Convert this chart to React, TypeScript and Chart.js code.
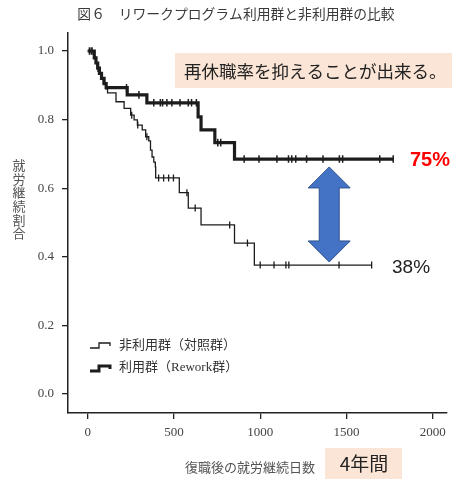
import React, { useEffect, useRef } from 'react';
import { Chart, registerables } from 'chart.js';

Chart.register(...registerables);

// ---- data ----
const xTicks = [0, 500, 1000, 1500, 2000];
const yTicks = [0, 0.2, 0.4, 0.6, 0.8, 1.0];

const titleText = '図６　リワークプログラム利用群と非利用群の比較';
const yTitle = '就労継続割合';
const xTitle = '復職後の就労継続日数';
const legendLabels = ['非利用群（対照群）', '利用群（Rework群）'];
const noteText = '再休職率を抑えることが出来る。';
const periodText = '4年間';
const reworkRateText = '75%';
const controlRateText = '38%';

// Rework group (thick line): event times (days) and survival after each step
const reworkTimes = [0, 38, 48, 58, 68, 80, 95, 107, 229, 343, 640, 657, 737, 851, 1771];
const reworkSurv = [1.0, 0.98, 0.965, 0.95, 0.935, 0.92, 0.905, 0.893, 0.872, 0.849, 0.808, 0.77, 0.733, 0.685, 0.685];
const reworkCensor = [10, 25, 60, 225, 297, 383, 421, 434, 459, 488, 535, 583, 602, 630, 754, 771, 907, 993, 1097, 1164, 1183, 1206, 1269, 1364, 1459, 1478, 1693, 1771];

// Control group (thin line)
const controlTimes = [0, 35, 45, 55, 65, 75, 90, 105, 115, 164, 211, 249, 269, 288, 316, 336, 354, 364, 373, 383, 392, 394, 531, 583, 657, 851, 966, 1646];
const controlSurv = [1.0, 0.98, 0.965, 0.95, 0.935, 0.92, 0.905, 0.89, 0.878, 0.852, 0.833, 0.813, 0.799, 0.784, 0.77, 0.75, 0.738, 0.711, 0.691, 0.676, 0.662, 0.63, 0.587, 0.542, 0.493, 0.44, 0.376, 0.376];
const controlCensor = [20, 255, 290, 343, 411, 440, 469, 497, 575, 623, 823, 926, 1000, 1080, 1149, 1166, 1457, 1646];

// arrow annotation (day, survival from, survival to)
const arrowDay = 1400;
const arrowTop = 0.662;
const arrowBottom = 0.385;

function survAt(times: number[], surv: number[], t: number) {
  let v = surv[0];
  for (let i = 0; i < times.length; i++) if (times[i] <= t) v = surv[i];
  return v;
}

const LINE = '#1c1c1c';
const PEACH = '#FBE5D6';
const CJK = '"Noto Sans CJK JP"';

const decor = {
  id: 'decor',
  beforeDatasetsDraw(chart: any) {
    const ctx = chart.ctx;
    ctx.save();
    ctx.fillStyle = PEACH;
    ctx.fillRect(175, 53, 277, 35);
    ctx.fillStyle = '#222';
    ctx.font = `17.5px ${CJK}`;
    ctx.textAlign = 'left';
    ctx.textBaseline = 'middle';
    ctx.fillText(noteText, 184, 71);
    ctx.restore();
  },
  afterDraw(chart: any) {
    const ctx = chart.ctx;
    const xs = chart.scales.x;
    const ys = chart.scales.y;
    ctx.save();
    // title
    ctx.fillStyle = '#3a3a3a';
    ctx.font = `13.8px ${CJK}`;
    ctx.textAlign = 'center';
    ctx.textBaseline = 'middle';
    ctx.fillText(titleText, 236, 14);
    // y title vertical
    ctx.fillStyle = '#555';
    ctx.font = `13px ${CJK}`;
    Array.from(yTitle).forEach((ch, i) => ctx.fillText(ch, 19, 165 + i * 13.7));
    // x title
    ctx.fillText(xTitle, 250, 467);
    // period box
    ctx.fillStyle = PEACH;
    ctx.fillRect(325, 448, 77, 31);
    ctx.fillStyle = '#222';
    ctx.font = `19px ${CJK}`;
    ctx.fillText(periodText, 364, 464);
    // percentages
    ctx.textAlign = 'left';
    ctx.textBaseline = 'alphabetic';
    ctx.fillStyle = '#FF0000';
    ctx.font = 'bold 20px "Liberation Sans"';
    ctx.fillText(reworkRateText, 410, 166);
    ctx.fillStyle = '#222';
    ctx.font = '19px "Liberation Sans"';
    ctx.fillText(controlRateText, 392, 273);
    // double arrow
    const cx = xs.getPixelForValue(arrowDay);
    const yt = ys.getPixelForValue(arrowTop);
    const yb = ys.getPixelForValue(arrowBottom);
    const hw = 21, sw = 10, hl = 21;
    ctx.beginPath();
    ctx.moveTo(cx, yt);
    ctx.lineTo(cx + hw, yt + hl);
    ctx.lineTo(cx + sw, yt + hl);
    ctx.lineTo(cx + sw, yb - hl);
    ctx.lineTo(cx + hw, yb - hl);
    ctx.lineTo(cx, yb);
    ctx.lineTo(cx - hw, yb - hl);
    ctx.lineTo(cx - sw, yb - hl);
    ctx.lineTo(cx - sw, yt + hl);
    ctx.lineTo(cx - hw, yt + hl);
    ctx.closePath();
    ctx.fillStyle = '#4472C4';
    ctx.fill();
    ctx.strokeStyle = '#2F528F';
    ctx.lineWidth = 1;
    ctx.stroke();
    // legend
    const drawIcon = (y: number, w: number) => {
      ctx.beginPath();
      ctx.moveTo(90, y + 3);
      ctx.lineTo(99, y + 3);
      ctx.lineTo(99, y - 2);
      ctx.lineTo(110, y - 2);
      ctx.lineTo(110, y + 1);
      ctx.strokeStyle = LINE;
      ctx.lineWidth = w;
      ctx.lineJoin = 'miter';
      ctx.stroke();
    };
    drawIcon(345, 1.3);
    drawIcon(368, 3);
    ctx.fillStyle = '#333';
    ctx.font = `13px "Liberation Serif", ${CJK}`;
    ctx.textBaseline = 'middle';
    ctx.fillText(legendLabels[0], 119, 346);
    ctx.fillText(legendLabels[1], 119, 368);
    ctx.restore();
  },
};

export default function App() {
  const ref = useRef<HTMLCanvasElement | null>(null);
  useEffect(() => {
    const canvas = ref.current;
    if (!canvas) return;
    const axisFont = { family: '"Liberation Serif"', size: 13 };
    const chart = new Chart(canvas, {
      type: 'line',
      data: {
        datasets: [
          {
            data: controlTimes.map((t, i) => ({ x: t, y: controlSurv[i] })),
            borderColor: LINE,
            borderWidth: 1.3,
            stepped: true,
            pointRadius: 0,
            fill: false,
          },
          {
            data: reworkTimes.map((t, i) => ({ x: t, y: reworkSurv[i] })),
            borderColor: LINE,
            borderWidth: 3.2,
            stepped: true,
            pointRadius: 0,
            fill: false,
          },
          {
            data: controlCensor.map((t) => ({ x: t, y: survAt(controlTimes, controlSurv, t) })),
            showLine: false,
            pointStyle: 'line',
            pointRotation: 90,
            pointRadius: 3.5,
            pointBorderColor: LINE,
            pointBorderWidth: 1.3,
          },
          {
            data: reworkCensor.map((t) => ({ x: t, y: survAt(reworkTimes, reworkSurv, t) })),
            showLine: false,
            pointStyle: 'line',
            pointRotation: 90,
            pointRadius: 3.8,
            pointBorderColor: LINE,
            pointBorderWidth: 1.5,
          },
        ],
      } as any,
      options: {
        responsive: false,
        animation: false,
        devicePixelRatio: 1,
        layout: { padding: { top: 33, left: 0, right: 0, bottom: 0 } },
        plugins: { legend: { display: false }, tooltip: { enabled: false } },
        scales: {
          x: {
            type: 'linear',
            min: -114.3,
            max: 2080,
            afterBuildTicks: (s: any) => {
              s.ticks = xTicks.map((v) => ({ value: v }));
            },
            afterFit: (s: any) => {
              s.height = 66;
            },
            grid: { drawOnChartArea: false, drawTicks: true, tickLength: 6, color: '#222', lineWidth: 1.3 },
            border: { display: true, color: '#222', width: 1.5 },
            ticks: { font: axisFont, color: '#444', padding: 6, maxRotation: 0, autoSkip: false, callback: (v: any) => String(v) },
          },
          y: {
            type: 'linear',
            min: -0.0554,
            max: 1.0525,
            afterBuildTicks: (s: any) => {
              s.ticks = yTicks.map((v) => ({ value: v }));
            },
            afterFit: (s: any) => {
              s.width = 68;
            },
            grid: { drawOnChartArea: false, drawTicks: true, tickLength: 6, color: '#222', lineWidth: 1.3 },
            border: { display: true, color: '#222', width: 1.5 },
            ticks: { font: axisFont, color: '#444', padding: 8, autoSkip: false, callback: (v: any) => Number(v).toFixed(1) },
          },
        },
      } as any,
      plugins: [decor],
    });
    return () => chart.destroy();
  }, []);
  return (
    <div style={{ position: 'absolute', left: 0, top: 0, width: 452, height: 479, background: '#fff' }}>
      <canvas ref={ref} width={452} height={479} style={{ display: 'block' }} />
    </div>
  );
}
